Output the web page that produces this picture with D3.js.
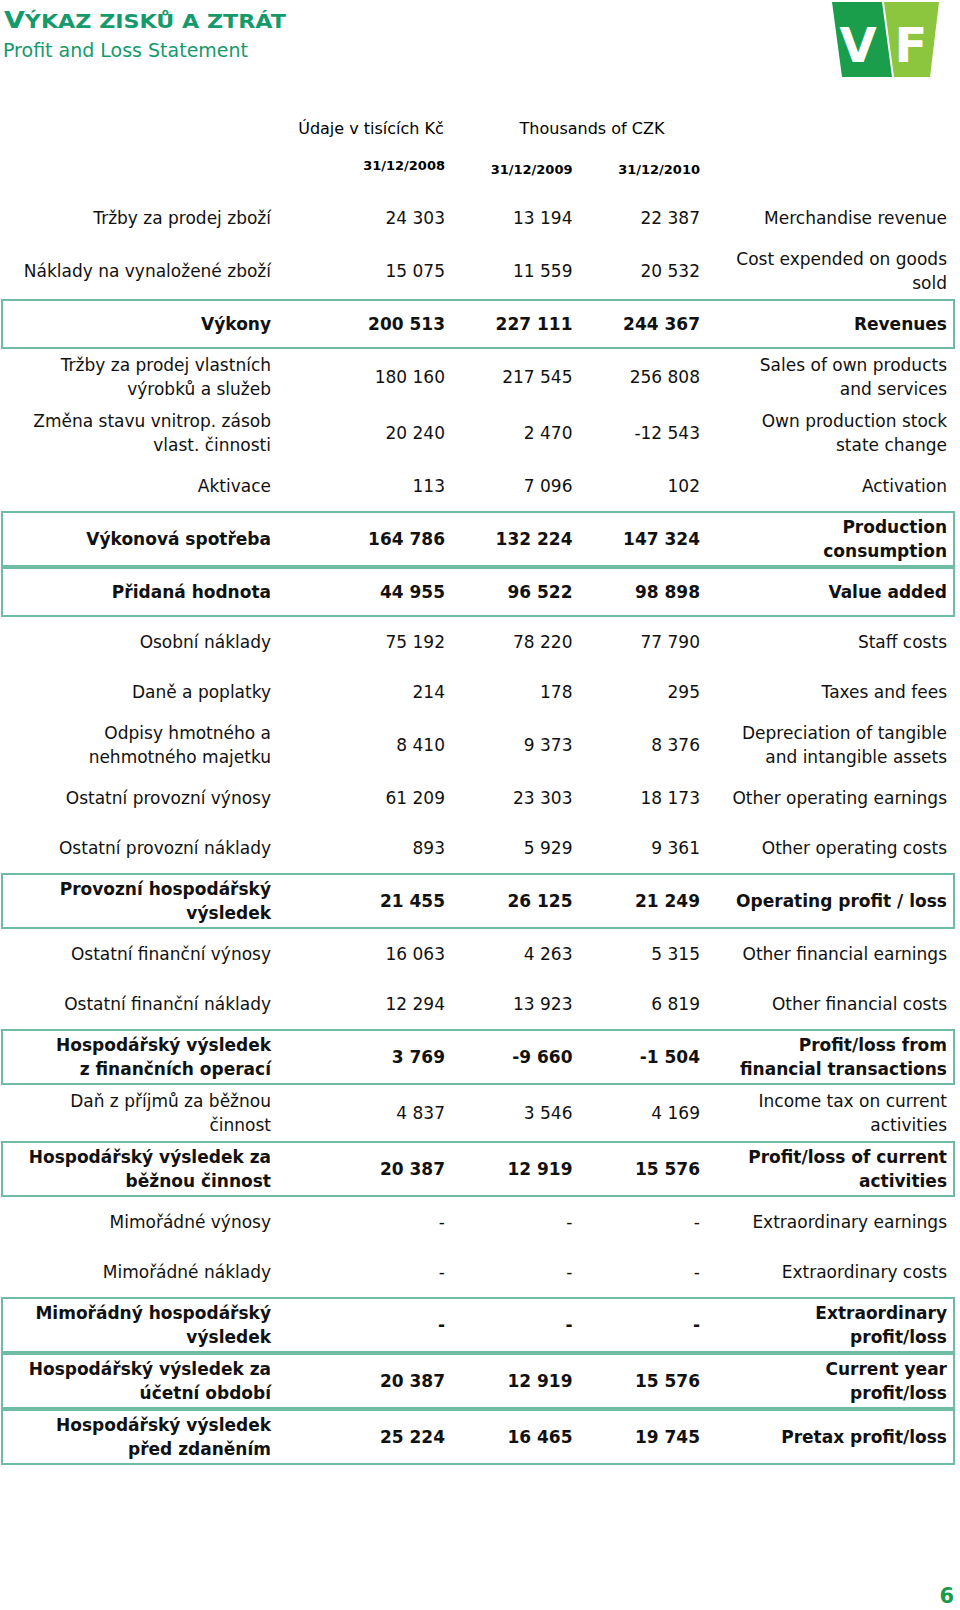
<!DOCTYPE html>
<html>
<head>
<meta charset="utf-8">
<script src="https://cdn.jsdelivr.net/npm/d3@7"></script>
<style>
  body { margin: 0; background: #fff; }
  svg { display: block; font-family: "DejaVu Sans", Verdana, sans-serif; }
</style>
</head>
<body>
<div id="chart"></div>
<script>
// row labels, czech and english ("\n" = line break)
var labelsCz = [
  "Tržby za prodej zboží",
  "Náklady na vynaložené zboží",
  "Výkony",
  "Tržby za prodej vlastních\nvýrobků a služeb",
  "Změna stavu vnitrop. zásob\nvlast. činnosti",
  "Aktivace",
  "Výkonová spotřeba",
  "Přidaná hodnota",
  "Osobní náklady",
  "Daně a poplatky",
  "Odpisy hmotného a\nnehmotného majetku",
  "Ostatní provozní výnosy",
  "Ostatní provozní náklady",
  "Provozní hospodářský\nvýsledek",
  "Ostatní finanční výnosy",
  "Ostatní finanční náklady",
  "Hospodářský výsledek\nz finančních operací",
  "Daň z příjmů za běžnou\nčinnost",
  "Hospodářský výsledek za\nběžnou činnost",
  "Mimořádné výnosy",
  "Mimořádné náklady",
  "Mimořádný hospodářský\nvýsledek",
  "Hospodářský výsledek za\núčetní období",
  "Hospodářský výsledek\npřed zdaněním"
];
var labelsEn = [
  "Merchandise revenue",
  "Cost expended on goods\nsold",
  "Revenues",
  "Sales of own products\nand services",
  "Own production stock\nstate change",
  "Activation",
  "Production\nconsumption",
  "Value added",
  "Staff costs",
  "Taxes and fees",
  "Depreciation of tangible\nand intangible assets",
  "Other operating earnings",
  "Other operating costs",
  "Operating profit / loss",
  "Other financial earnings",
  "Other financial costs",
  "Profit/loss from\nfinancial transactions",
  "Income tax on current\nactivities",
  "Profit/loss of current\nactivities",
  "Extraordinary earnings",
  "Extraordinary costs",
  "Extraordinary\nprofit/loss",
  "Current year\nprofit/loss",
  "Pretax profit/loss"
];
// values in thousands of CZK, null = "-"
var years = ["31/12/2008", "31/12/2009", "31/12/2010"];
var values2008 = [24303, 15075, 200513, 180160, 20240, 113, 164786, 44955, 75192, 214, 8410, 61209, 893, 21455, 16063, 12294, 3769, 4837, 20387, null, null, null, 20387, 25224];
var values2009 = [13194, 11559, 227111, 217545, 2470, 7096, 132224, 96522, 78220, 178, 9373, 23303, 5929, 26125, 4263, 13923, -9660, 3546, 12919, null, null, null, 12919, 16465];
var values2010 = [22387, 20532, 244367, 256808, -12543, 102, 147324, 98898, 77790, 295, 8376, 18173, 9361, 21249, 5315, 6819, -1504, 4169, 15576, null, null, null, 15576, 19745];
// subtotal rows (bold, boxed)
var subtotalRows = [2, 6, 7, 13, 16, 18, 21, 22, 23];

var width = 960, height = 1610;
var green = "#159a6c", boxColor = "#6fbca3";

var svg = d3.select("#chart").append("svg")
  .attr("width", width)
  .attr("height", height);

var locale = d3.formatLocale({decimal: ",", thousands: "\u00a0", grouping: [3], currency: ["", ""], minus: "-"});
var fmt = locale.format(",d");

// title
var title = svg.append("text")
  .attr("x", 4).attr("y", 28)
  .attr("fill", green)
  .attr("font-weight", "bold")
  .attr("textLength", 282)
  .attr("lengthAdjust", "spacingAndGlyphs");
title.append("tspan").attr("font-size", 23).text("V");
title.append("tspan").attr("font-size", 19).text("ÝKAZ ZISKŮ A ZTRÁT");

svg.append("text")
  .attr("x", 3).attr("y", 57)
  .attr("fill", green)
  .attr("font-size", 19)
  .attr("textLength", 245)
  .attr("lengthAdjust", "spacingAndGlyphs")
  .text("Profit and Loss Statement");

// logo
var logo = svg.append("g");
logo.append("path")
  .attr("d", "M832,2 L882,2 L892,77 L842,77 Z")
  .attr("fill", "#1b9e4b");
logo.append("path")
  .attr("d", "M884,2 L939,2 L930,77 L894,77 Z")
  .attr("fill", "#8cc63e");
logo.append("text")
  .attr("x", 858).attr("y", 62)
  .attr("text-anchor", "middle")
  .attr("font-size", 48).attr("font-weight", "bold")
  .attr("fill", "#fff").text("V");
logo.append("text")
  .attr("x", 911).attr("y", 62)
  .attr("text-anchor", "middle")
  .attr("font-size", 48).attr("font-weight", "bold")
  .attr("fill", "#fff").text("F");

// columns
var xCol = d3.scalePoint().domain(years).range([445, 700]);
var xLabelCz = 271, xLabelEn = 947;

svg.append("text")
  .attr("x", 371).attr("y", 128).attr("dy", "0.35em")
  .attr("text-anchor", "middle").attr("font-size", 16)
  .text("Údaje v tisících Kč");
svg.append("text")
  .attr("x", 592).attr("y", 128).attr("dy", "0.35em")
  .attr("text-anchor", "middle").attr("font-size", 16)
  .text("Thousands of CZK");

svg.selectAll(".year")
  .data(years)
  .enter().append("text")
  .attr("class", "year")
  .attr("x", function(d) { return xCol(d); })
  .attr("y", function(d, i) { return i == 0 ? 165 : 169; })
  .attr("dy", "0.35em")
  .attr("text-anchor", "end")
  .attr("font-size", 13).attr("font-weight", "bold")
  .text(function(d) { return d; });

// build rows; height depends on number of text lines
var rows = [];
var rowTop = 193;
labelsCz.forEach(function(cz, i) {
  var czLines = cz.split("\n"), enLines = labelsEn[i].split("\n");
  var n = Math.max(czLines.length, enLines.length);
  var h = n > 1 ? 56 : 50;
  rows.push({
    cz: czLines, en: enLines,
    vals: [values2008[i], values2009[i], values2010[i]],
    bold: subtotalRows.indexOf(i) >= 0,
    y0: rowTop, h: h
  });
  rowTop += h;
});

var lineH = 23.5;
var row = svg.selectAll(".row")
  .data(rows)
  .enter().append("g")
  .attr("class", "row")
  .attr("transform", function(d) { return "translate(0," + (d.y0 + d.h / 2) + ")"; })
  .attr("font-size", 17)
  .attr("font-weight", function(d) { return d.bold ? "bold" : "normal"; })
  .attr("fill", "#111");

row.filter(function(d) { return d.bold; })
  .append("rect")
  .attr("x", 2).attr("y", function(d) { return -d.h / 2 + 1; })
  .attr("width", 952).attr("height", function(d) { return d.h - 2; })
  .attr("fill", "none")
  .attr("stroke", boxColor).attr("stroke-width", 2);

function addLines(sel, key, x) {
  sel.append("text")
    .attr("text-anchor", "end")
    .each(function(d) {
      var lines = d[key];
      var t = d3.select(this);
      lines.forEach(function(l, j) {
        t.append("tspan")
          .attr("x", x)
          .attr("y", (j - (lines.length - 1) / 2) * lineH)
          .attr("dy", "0.35em")
          .text(l);
      });
    });
}
addLines(row, "cz", xLabelCz);
addLines(row, "en", xLabelEn);

row.selectAll(".val")
  .data(function(d) { return d.vals.map(function(v, k) { return {v: v, year: years[k]}; }); })
  .enter().append("text")
  .attr("class", "val")
  .attr("x", function(d) { return xCol(d.year); })
  .attr("dy", "0.35em")
  .attr("text-anchor", "end")
  .text(function(d) { return d.v == null ? "-" : fmt(d.v); });

// page number
svg.append("text")
  .attr("x", 954).attr("y", 1603)
  .attr("text-anchor", "end")
  .attr("font-size", 21).attr("font-weight", "bold")
  .attr("fill", "#1a9a4a")
  .text("6");
</script>
</body>
</html>
